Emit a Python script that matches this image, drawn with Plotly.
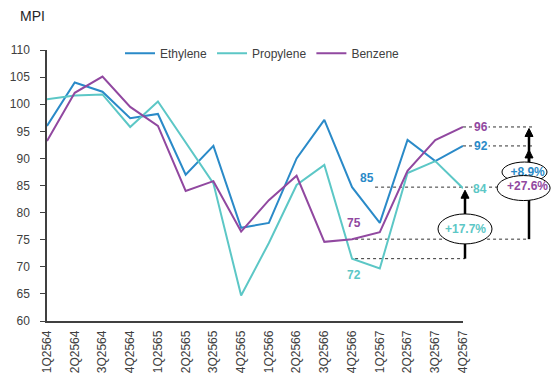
import plotly.graph_objects as go

# ---------------- data ----------------
quarters = ["1Q2564", "2Q2564", "3Q2564", "4Q2564",
            "1Q2565", "2Q2565", "3Q2565", "4Q2565",
            "1Q2566", "2Q2566", "3Q2566", "4Q2566",
            "1Q2567", "2Q2567", "3Q2567", "4Q2567"]
ethylene = [96.0, 104.0, 102.3, 97.4, 98.2, 87.0, 92.3, 77.2,
            78.1, 90.0, 97.1, 84.7, 78.1, 93.4, 89.5, 92.3]
propylene = [100.9, 101.6, 101.8, 95.8, 100.5, 93.0, 85.4, 64.7,
             74.4, 85.1, 88.8, 71.5, 69.7, 87.3, 89.5, 84.5]
benzene = [93.2, 102.1, 105.1, 99.5, 96.0, 84.0, 85.8, 76.5,
           82.3, 86.8, 74.6, 75.1, 76.4, 87.7, 93.4, 95.8]
point_labels = {"ethylene": ["85", "92"], "propylene": ["72", "84"], "benzene": ["75", "96"]}
change_labels = ["+17.7%", "+8.9%", "+27.6%"]
y_min, y_max, y_step = 60, 110, 5

C_ETH = "#2A8AC8"
C_PRO = "#5CC7C6"
C_BEN = "#9148A0"
AXIS = "#404040"
FONT = "Arial, Liberation Sans, sans-serif"

# ---------------- geometry helpers ----------------
W, H = 557, 381
L, R, T, B = 47, 5, 50, 60
PW_MAIN = 416                 # width of the chart's own x axis
PWF = W - L - R               # full paper width (includes annotation area)
PH = H - T - B
n = len(quarters)
STEP = PW_MAIN / (n - 1)
last = n - 1
mid = 11  # 4Q2566


def xp(i, dpx=0.0):
    return (i * STEP + dpx) / PWF


def yp(v, dpx=0.0):
    return (v - y_min) / (y_max - y_min) - dpx / PH


x_idx = list(range(n))
fig = go.Figure()
for name, vals, col in [("Ethylene", ethylene, C_ETH),
                        ("Propylene", propylene, C_PRO),
                        ("Benzene", benzene, C_BEN)]:
    fig.add_trace(go.Scatter(x=x_idx, y=vals, mode="lines", name=name,
                             line=dict(color=col, width=2), hoverinfo="skip"))

shapes = []
dash = dict(color="#333333", width=1, dash="dot")


def hline(v, x0, x1):
    shapes.append(dict(type="line", xref="paper", yref="paper", x0=x0, x1=x1,
                       y0=yp(v), y1=yp(v), line=dash, layer="below"))


hline(benzene[last], xp(last), xp(last, 69))
hline(ethylene[last], xp(last), xp(last, 69))
hline(ethylene[mid], xp(mid, 23), xp(last, 66))
hline(benzene[mid], xp(mid, 3), xp(last, 66))
hline(propylene[mid], xp(mid, 3), xp(last, 2))


def arrow(x, v0, v1, tip_off, layer):
    shapes.append(dict(type="line", xref="paper", yref="paper", x0=x, x1=x,
                       y0=yp(v0), y1=yp(v1, tip_off + 6),
                       line=dict(color="black", width=2.5), layer=layer))
    hw = 4 / PWF
    ytip = yp(v1, tip_off)
    ybase = yp(v1, tip_off + 8)
    shapes.append(dict(type="path", xref="paper", yref="paper",
                       path=f"M {x - hw},{ybase} L {x},{ytip} L {x + hw},{ybase} Z",
                       fillcolor="black", line=dict(color="black", width=1), layer=layer))


def ellipse(cx, cy, w, h, layer):
    shapes.append(dict(type="circle", xref="paper", yref="paper",
                       x0=cx - w / 2 / PWF, x1=cx + w / 2 / PWF,
                       y0=cy - h / 2 / PH, y1=cy + h / 2 / PH,
                       fillcolor="white", line=dict(color="black", width=1), layer=layer))


# arrows at right (behind ellipses)
xb = xp(last, 66)
arrow(xb, benzene[mid], benzene[last], 1.5, "below")
arrow(xb, ethylene[mid], ethylene[last], 4, "below")
ellipse(xp(last, 61.5), yp((ethylene[mid] + ethylene[last]) / 2, 5.5), 45, 20, "below")
ellipse(xp(last, 60.6), yp((benzene[mid] + benzene[last]) / 2, 5), 53, 25, "above")
# propylene arrow
xa = xp(last, 2)
arrow(xa, propylene[mid], propylene[last], 2, "above")
ellipse(xa, yp((propylene[mid] + propylene[last]) / 2, 5.5), 54, 30, "above")

# +8.9% text drawn as trace text (on a hidden full-width x axis) so the
# front ellipse can overlap it as in the original
fig.add_trace(go.Scatter(
    x=[last + 64.6 / STEP],
    y=[(ethylene[mid] + ethylene[last]) / 2 - 6.0 * (y_max - y_min) / PH],
    xaxis="x2", yaxis="y",
    mode="text", text=[change_labels[1]], showlegend=False, hoverinfo="skip",
    textfont=dict(family=FONT, size=12, color=C_ETH, weight="bold")))

annotations = []


def lab(text, i, v, dx, dy, col, bg=None):
    a = dict(text=f"<b>{text}</b>", x=i, y=v, xref="x", yref="y", showarrow=False,
             xshift=dx, yshift=dy, font=dict(family=FONT, size=12, color=col),
             xanchor="center", yanchor="middle")
    if bg:
        a["bgcolor"] = bg
        a["borderpad"] = 0
    annotations.append(a)


lab(point_labels["ethylene"][0], mid, ethylene[mid], 15, 9.4, C_ETH)
lab(point_labels["benzene"][0], mid, benzene[mid], 1.6, 16, C_BEN)
lab(point_labels["propylene"][0], mid, propylene[mid], 1.6, -16.3, C_PRO)
lab(point_labels["benzene"][1], last, benzene[last], 17.6, 0.3, C_BEN, "white")
lab(point_labels["ethylene"][1], last, ethylene[last], 17.6, 0, C_ETH, "white")
lab(point_labels["propylene"][1], last, propylene[last], 17.3, -1, C_PRO, "white")

annotations.append(dict(text=f"<b>{change_labels[0]}</b>", xref="paper", yref="paper",
                        x=xa, y=yp((propylene[mid] + propylene[last]) / 2, 5.5),
                        xanchor="center", yanchor="middle",
                        showarrow=False, font=dict(family=FONT, size=12, color=C_PRO)))
annotations.append(dict(text=f"<b>{change_labels[2]}</b>", xref="paper", yref="paper",
                        x=xp(last, 64.3), y=yp((benzene[mid] + benzene[last]) / 2, 3.2),
                        xanchor="center", yanchor="middle",
                        showarrow=False, font=dict(family=FONT, size=12, color=C_BEN)))
annotations.append(dict(text="MPI", xref="paper", yref="paper", x=(18 - L) / PWF,
                        y=1 + (T - 15.7) / PH, xanchor="left", yanchor="middle",
                        showarrow=False, font=dict(family=FONT, size=14, color="#262626")))

fig.update_layout(
    width=W, height=H,
    margin=dict(l=L, r=R, t=T, b=B, pad=0, autoexpand=False),
    paper_bgcolor="white", plot_bgcolor="rgba(0,0,0,0)",
    font=dict(family=FONT, size=12, color=AXIS),
    showlegend=True,
    legend=dict(orientation="h", x=(120 - L) / PWF, xanchor="left",
                y=(PH - (53.3 - T)) / PH, yanchor="middle",
                font=dict(family=FONT, size=12, color=AXIS),
                bgcolor="rgba(0,0,0,0)", traceorder="normal"),
    shapes=shapes, annotations=annotations,
    xaxis=dict(domain=[0, PW_MAIN / PWF], range=[0, last], tickmode="array",
               tickvals=x_idx, ticktext=quarters, tickangle=-90, showgrid=False,
               zeroline=False, showline=True, linecolor=AXIS, linewidth=1.5, ticks="",
               ticklabelstandoff=3, anchor="y", automargin=False,
               tickfont=dict(family=FONT, size=12, color=AXIS)),
    xaxis2=dict(domain=[0, 1], range=[0, PWF / STEP], visible=False, anchor="y",
                showgrid=False, zeroline=False, automargin=False),
    yaxis=dict(range=[y_min, y_max], dtick=y_step, tick0=y_min, showgrid=False,
               zeroline=False, showline=True, linecolor=AXIS, linewidth=1.5,
               ticks="outside", ticklen=5, tickcolor=AXIS, tickwidth=1,
               ticklabelstandoff=8, anchor="x", automargin=False,
               tickfont=dict(family=FONT, size=12, color=AXIS)),
)

fig.write_html("out.html")
